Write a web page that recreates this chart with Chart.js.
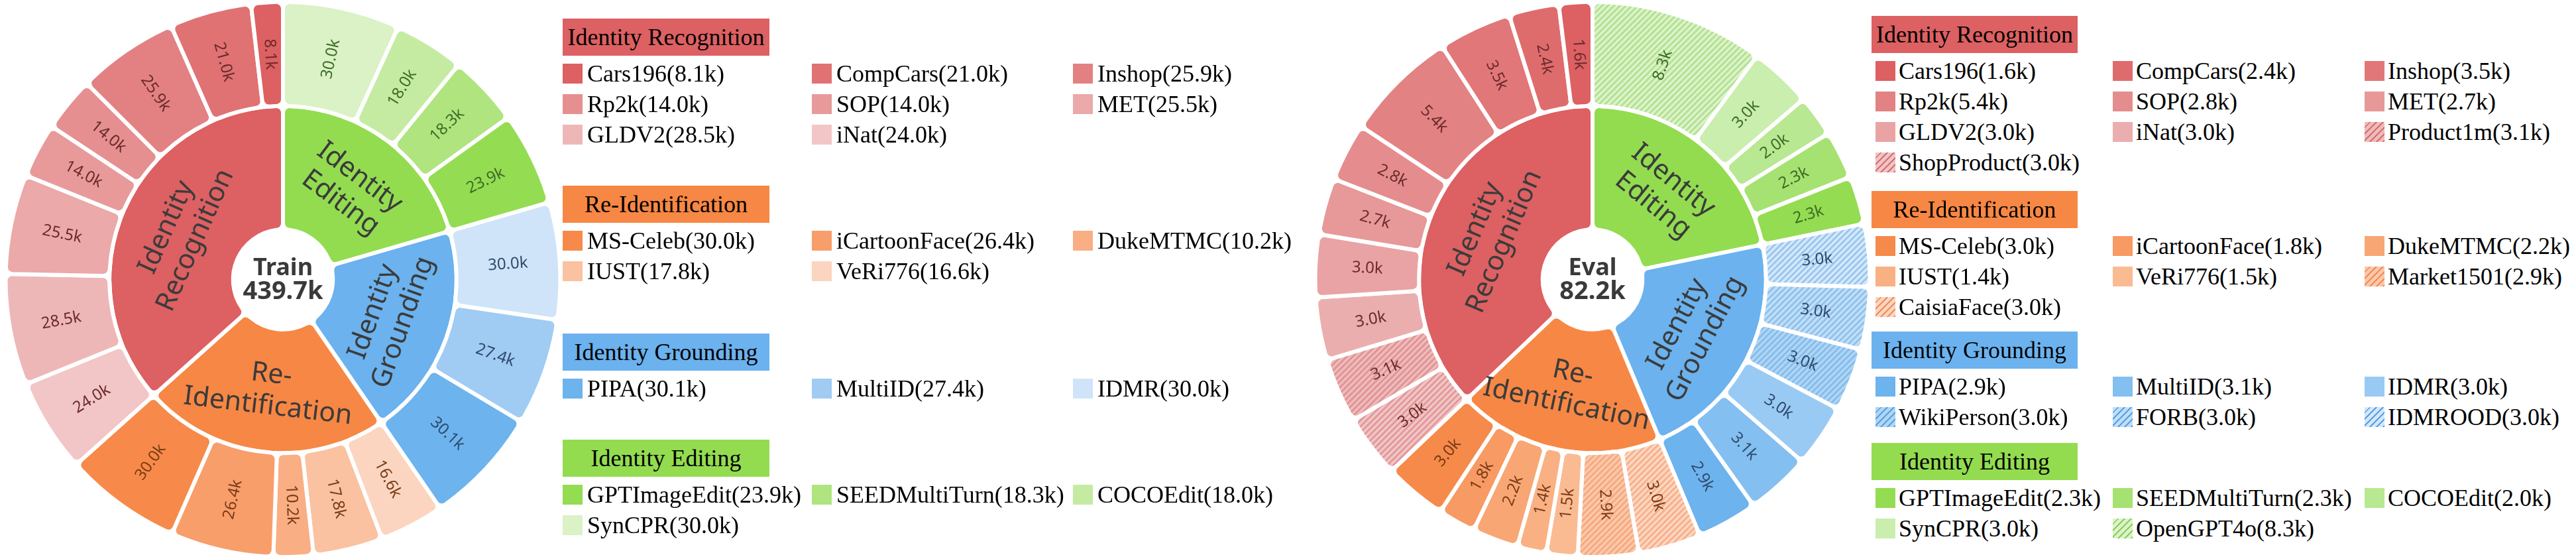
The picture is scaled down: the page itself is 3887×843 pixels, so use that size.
<!DOCTYPE html>
<html><head><meta charset="utf-8">
<script src="https://cdn.jsdelivr.net/npm/chart.js@4.4.1/dist/chart.umd.min.js"></script>
<style>
html,body{margin:0;padding:0;background:#fff;}
body{width:3887px;height:843px;position:relative;overflow:hidden;}
.pie{position:absolute;top:0;width:854px;height:843px;}
.lg-head{position:absolute;height:56px;display:flex;align-items:center;justify-content:center;font:36px "Liberation Serif","Times New Roman",serif;color:#000;white-space:nowrap;}
.lg-item{position:absolute;height:40px;display:flex;align-items:center;font:36px "Liberation Serif","Times New Roman",serif;color:#000;white-space:nowrap;}
.sw{width:30px;height:30px;flex:0 0 30px;}
</style></head><body>
<div class="pie" style="left:0"><canvas id="trainChart"></canvas></div>
<div class="pie" style="left:1976px"><canvas id="evalChart"></canvas></div>
<div id="legends"></div>
<script>
// ---------------- DATA ----------------
const categories = ['Identity Recognition', 'Re-Identification', 'Identity Grounding', 'Identity Editing'];

const trainRecognitionNames = ['Cars196', 'CompCars', 'Inshop', 'Rp2k', 'SOP', 'MET', 'GLDV2', 'iNat'];
const trainRecognitionValues = [8.1, 21.0, 25.9, 14.0, 14.0, 25.5, 28.5, 24.0];
const trainReidNames = ['MS-Celeb', 'iCartoonFace', 'DukeMTMC', 'IUST', 'VeRi776'];
const trainReidValues = [30.0, 26.4, 10.2, 17.8, 16.6];
const trainGroundingNames = ['PIPA', 'MultiID', 'IDMR'];
const trainGroundingValues = [30.1, 27.4, 30.0];
const trainEditingNames = ['GPTImageEdit', 'SEEDMultiTurn', 'COCOEdit', 'SynCPR'];
const trainEditingValues = [23.9, 18.3, 18.0, 30.0];

const evalRecognitionNames = ['Cars196', 'CompCars', 'Inshop', 'Rp2k', 'SOP', 'MET', 'GLDV2', 'iNat', 'Product1m', 'ShopProduct'];
const evalRecognitionValues = [1.6, 2.4, 3.5, 5.4, 2.8, 2.7, 3.0, 3.0, 3.1, 3.0];
const evalReidNames = ['MS-Celeb', 'iCartoonFace', 'DukeMTMC', 'IUST', 'VeRi776', 'Market1501', 'CaisiaFace'];
const evalReidValues = [3.0, 1.8, 2.2, 1.4, 1.5, 2.9, 3.0];
const evalGroundingNames = ['PIPA', 'MultiID', 'IDMR', 'WikiPerson', 'FORB', 'IDMROOD'];
const evalGroundingValues = [2.9, 3.1, 3.0, 3.0, 3.0, 3.0];
const evalEditingNames = ['GPTImageEdit', 'SEEDMultiTurn', 'COCOEdit', 'SynCPR', 'OpenGPT4o'];
const evalEditingValues = [2.3, 2.3, 2.0, 3.0, 8.3];
const evalHatchedNames = ['Product1m', 'ShopProduct', 'Market1501', 'CaisiaFace', 'WikiPerson', 'FORB', 'IDMROOD', 'OpenGPT4o'];

// ---------------- STYLE ----------------
const categoryColors = ['#dd6062', '#f78744', '#6bb2ee', '#93dc50'];
const labelColors = ['#6b2a2c', '#7a3b17', '#2e4a6c', '#3e6c26'];
const stripeColors = ['rgba(214,110,112,0.55)', 'rgba(240,140,90,0.55)', 'rgba(90,160,225,0.5)', 'rgba(140,205,95,0.55)'];
const trainShades = [
  ['#dd6062', '#e07273', '#e38182', '#e68f90', '#e89a9a', '#eba9a9', '#eeb7b7', '#f2c6c6'],
  ['#f78a4a', '#f89e6b', '#f9ae84', '#fac2a0', '#fbd5bf'],
  ['#6db3ee', '#a0cbf3', '#cfe4f8'],
  ['#94dc52', '#afe47f', '#c5eba2', '#daf2c6']
];
const evalShades = [
  ['#dd6062', '#df6c6d', '#e17778', '#e38283', '#e58d8e', '#e79899', '#e9a3a4', '#ebaeae', '#eebaba', '#f0c4c4'],
  ['#f68a4a', '#f79a63', '#f8a674', '#f9b184', '#fabb93', '#fbc8a9', '#fcd5bf'],
  ['#6db3ee', '#83bff0', '#99caf3', '#aed5f5', '#bfdef7', '#d2e7fa'],
  ['#94dc52', '#a6e272', '#b8e891', '#c9eeae', '#dbf3c8']
];
const pieFont = '"Noto Sans", "DejaVu Sans", sans-serif';

function hatchPattern(base, stripe) {
  const s = 9, cv = document.createElement('canvas');
  cv.width = s; cv.height = s;
  const g = cv.getContext('2d');
  g.fillStyle = base; g.fillRect(0, 0, s, s);
  g.strokeStyle = stripe; g.lineWidth = 2.6;
  g.beginPath();
  g.moveTo(-2, s + 2); g.lineTo(s + 2, -2);
  g.moveTo(-2, 2); g.lineTo(2, -2);
  g.moveTo(s - 2, s + 2); g.lineTo(s + 2, s - 2);
  g.stroke();
  return g.createPattern(cv, 'repeat');
}

function splitLabel(s) {
  const h = s.indexOf('-');
  if (h >= 0) return [s.slice(0, h + 1), s.slice(h + 1)];
  const i = s.indexOf(' ');
  return [s.slice(0, i), s.slice(i + 1)];
}

const labelPlugin = {
  id: 'sliceLabels',
  afterDatasetsDraw(chart) {
    const ctx = chart.ctx;
    const outer = chart.data.datasets[0], inner = chart.data.datasets[1];
    ctx.save();
    ctx.textAlign = 'center'; ctx.textBaseline = 'middle';
    let cx = 0, cy = 0;
    chart.getDatasetMeta(0).data.forEach((arc, i) => {
      const p = arc.getProps(['x', 'y', 'startAngle', 'endAngle', 'innerRadius', 'outerRadius'], true);
      cx = p.x; cy = p.y;
      const mid = (p.startAngle + p.endAngle) / 2, r = (p.innerRadius + p.outerRadius) / 2;
      const fromTop = mid + Math.PI / 2;
      const rot = fromTop > Math.PI ? mid - Math.PI : mid;
      ctx.save();
      ctx.translate(p.x + r * Math.cos(mid), p.y + r * Math.sin(mid));
      ctx.rotate(rot);
      ctx.fillStyle = outer.textColors[i];
      ctx.font = '24px ' + pieFont;
      ctx.fillText(outer.data[i].toFixed(1) + 'k', 0, 0);
      ctx.restore();
    });
    chart.getDatasetMeta(1).data.forEach((arc, i) => {
      const p = arc.getProps(['x', 'y', 'startAngle', 'endAngle', 'innerRadius', 'outerRadius'], true);
      const mid = (p.startAngle + p.endAngle) / 2, r = (p.innerRadius + p.outerRadius) / 2;
      const fromTop = mid + Math.PI / 2;
      let rot = fromTop;
      if (fromTop > Math.PI / 2 && fromTop < 1.5 * Math.PI) rot = fromTop - Math.PI;
      ctx.save();
      ctx.translate(p.x + r * Math.cos(mid), p.y + r * Math.sin(mid));
      ctx.rotate(rot);
      ctx.fillStyle = '#3b3b3b';
      ctx.font = '41px ' + pieFont;
      const lines = splitLabel(inner.labelsText[i]);
      ctx.fillText(lines[0], 0, -24);
      ctx.fillText(lines[1], 0, 24);
      ctx.restore();
    });
    ctx.fillStyle = '#3a3a3a';
    ctx.font = 'bold 36px ' + pieFont;
    ctx.fillText(chart.options.centerTitle, cx, cy - 17);
    ctx.font = 'bold 38px ' + pieFont;
    const total = inner.data.reduce((a, b) => a + b, 0);
    ctx.fillText(total.toFixed(1) + 'k', cx, cy + 19);
    ctx.restore();
  }
};

function buildPie(canvasId, title, groupNames, groupValues, shades, hatched) {
  const names = [], vals = [], bgs = [], tcs = [];
  groupNames.forEach((grp, c) => {
    grp.forEach((n, i) => {
      names.push(n);
      vals.push(groupValues[c][i]);
      const shade = shades[c][i];
      bgs.push(hatched.includes(n) ? hatchPattern(shade, stripeColors[c]) : shade);
      tcs.push(labelColors[c]);
    });
  });
  // drawn counter-clockwise in the reference: reverse for Chart.js clockwise order
  names.reverse(); vals.reverse(); bgs.reverse(); tcs.reverse();
  const innerVals = groupValues.map(v => +v.reduce((a, b) => a + b, 0).toFixed(1)).reverse();
  const innerNames = categories.slice().reverse();
  const innerBg = categoryColors.slice().reverse();
  return new Chart(document.getElementById(canvasId), {
    type: 'doughnut',
    data: {
      labels: names,
      datasets: [
        { data: vals, backgroundColor: bgs, borderColor: '#ffffff', borderWidth: 6, borderRadius: 10, weight: 1, textColors: tcs },
        { data: innerVals, backgroundColor: innerBg, borderColor: '#ffffff', borderWidth: 6, borderRadius: 10, weight: 1.19, labelsText: innerNames }
      ]
    },
    options: {
      responsive: true, maintainAspectRatio: false, animation: false,
      cutout: '18%', layout: { padding: 0 }, centerTitle: title,
      plugins: { legend: { display: false }, tooltip: { enabled: false } }
    },
    plugins: [labelPlugin]
  });
}

function buildLegend(layout, groupNames, groupValues, shades, hatched) {
  const root = document.getElementById('legends');
  groupNames.forEach((grp, c) => {
    const h = document.createElement('div');
    h.className = 'lg-head';
    h.style.left = layout.left + 'px'; h.style.top = layout.heads[c] + 'px';
    h.style.width = layout.width + 'px'; h.style.background = categoryColors[c];
    h.textContent = categories[c];
    root.appendChild(h);
    grp.forEach((n, i) => {
      const row = Math.floor(i / 3), col = i % 3;
      const it = document.createElement('div');
      it.className = 'lg-item';
      it.style.left = layout.cols[col] + 'px';
      it.style.top = (layout.heads[c] + 56 + 27 + row * 46 - 20) + 'px';
      const sw = document.createElement('span');
      sw.className = 'sw';
      sw.style.marginRight = layout.gap + 'px';
      if (hatched.includes(n)) {
        sw.style.background = 'repeating-linear-gradient(135deg,' + shades[c][i] + ' 0px,' + shades[c][i] + ' 5px,' +
          stripeColors[c].replace(/[\d.]+\)$/, '1)') + ' 5px,' + stripeColors[c].replace(/[\d.]+\)$/, '1)') + ' 7px)';
      } else sw.style.background = shades[c][i];
      it.appendChild(sw);
      const t = document.createElement('span');
      t.textContent = n + '(' + groupValues[c][i].toFixed(1) + 'k)';
      it.appendChild(t);
      root.appendChild(it);
    });
  });
}

const trainGroupNames = [trainRecognitionNames, trainReidNames, trainGroundingNames, trainEditingNames];
const trainGroupValues = [trainRecognitionValues, trainReidValues, trainGroundingValues, trainEditingValues];
const evalGroupNames = [evalRecognitionNames, evalReidNames, evalGroundingNames, evalEditingNames];
const evalGroupValues = [evalRecognitionValues, evalReidValues, evalGroundingValues, evalEditingValues];

const trainLegendLayout = { left: 849, width: 312, cols: [849, 1225, 1619], heads: [28, 280, 503, 663], gap: 7 };
const evalLegendLayout = { left: 2824, width: 311, cols: [2830, 3188, 3568], heads: [24, 288, 500, 668], gap: 5 };

buildPie('trainChart', 'Train', trainGroupNames, trainGroupValues, trainShades, []);
buildPie('evalChart', 'Eval', evalGroupNames, evalGroupValues, evalShades, evalHatchedNames);
buildLegend(trainLegendLayout, trainGroupNames, trainGroupValues, trainShades, []);
buildLegend(evalLegendLayout, evalGroupNames, evalGroupValues, evalShades, evalHatchedNames);
</script>
</body></html>
